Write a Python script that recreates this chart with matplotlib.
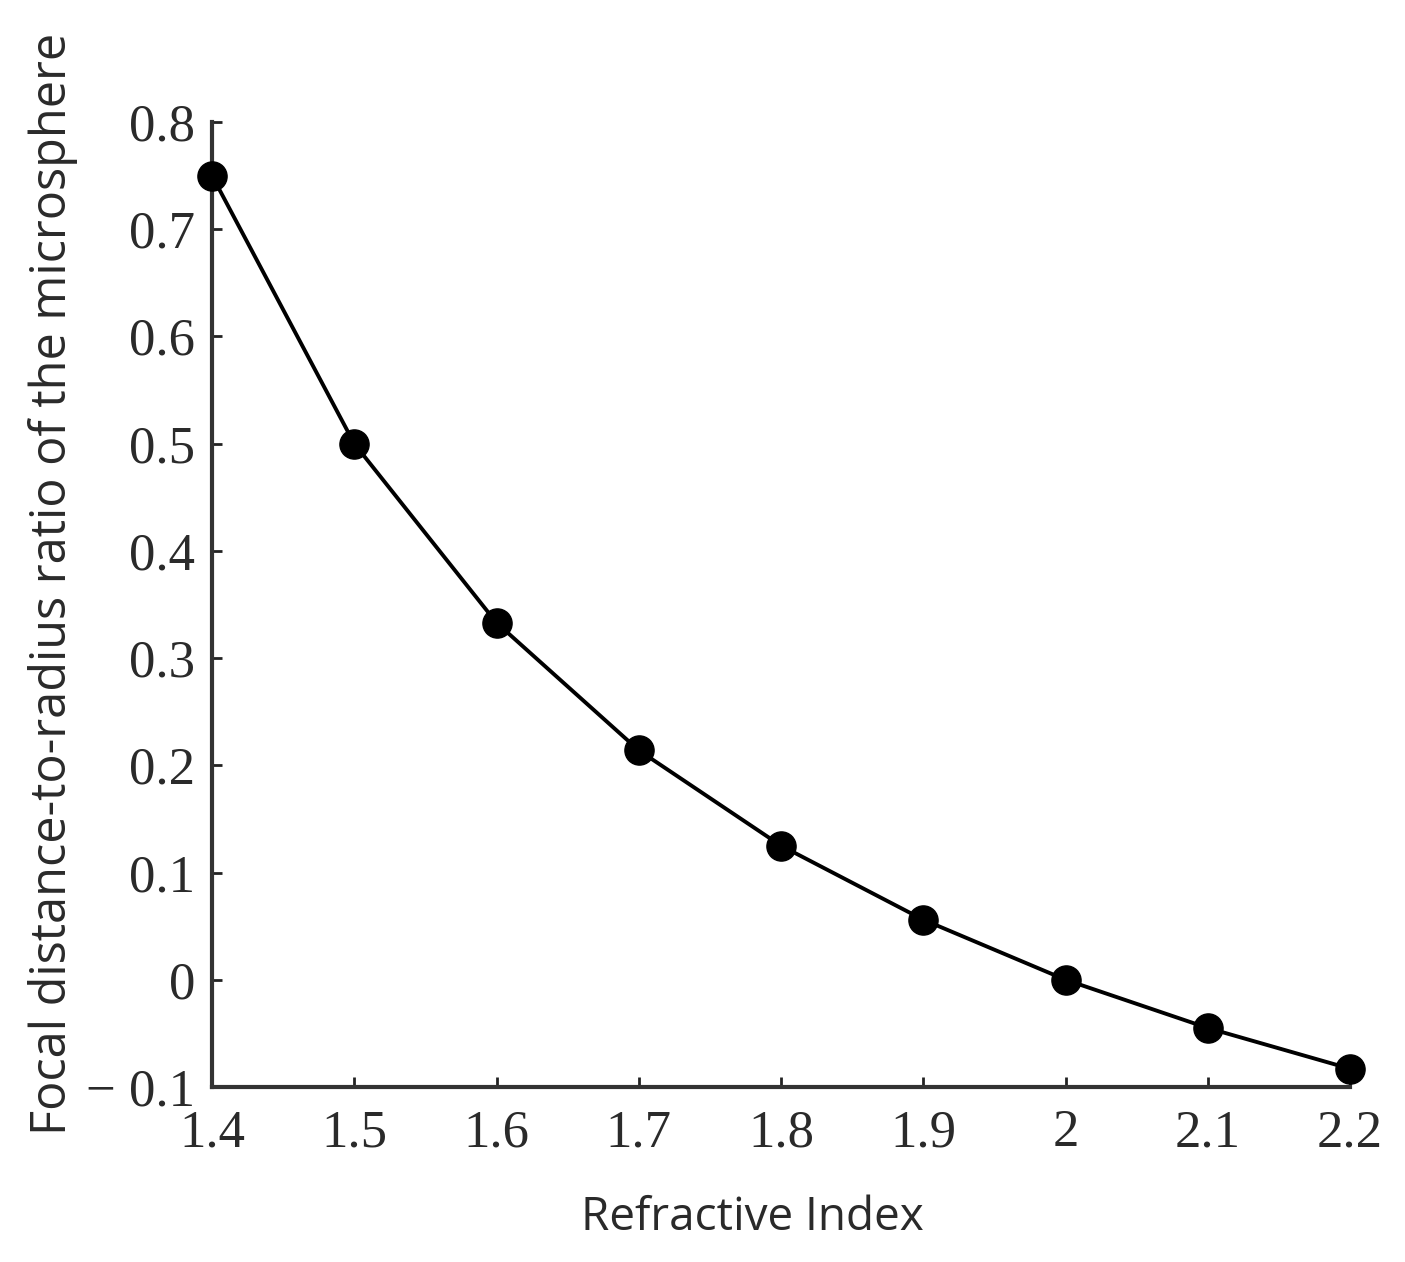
import numpy as np
import matplotlib.pyplot as plt

# data
refractive_index = [1.4, 1.5, 1.6, 1.7, 1.8, 1.9, 2.0, 2.1, 2.2]
focal_ratio = [0.75, 0.50, 0.333, 0.214, 0.125, 0.056, 0.0, -0.045, -0.083]

x_ticks = [1.4, 1.5, 1.6, 1.7, 1.8, 1.9, 2.0, 2.1, 2.2]
x_tick_labels = ['1.4', '1.5', '1.6', '1.7', '1.8', '1.9', '2', '2.1', '2.2']
y_ticks = [-0.1, 0, 0.1, 0.2, 0.3, 0.4, 0.5, 0.6, 0.7, 0.8]
y_tick_labels = ['\u2212 0.1', '0', '0.1', '0.2', '0.3', '0.4', '0.5', '0.6', '0.7', '0.8']

fig = plt.figure(figsize=(14.05, 12.62), dpi=100)
ax = fig.add_axes([0.1509, 0.1387, 0.81, 0.7646])

ax.plot(refractive_index, focal_ratio, color='black', lw=2.8,
        marker='o', markersize=21, markerfacecolor='black',
        markeredgecolor='black', clip_on=False, zorder=3)

ax.set_xlim(1.4, 2.2)
ax.set_ylim(-0.1, 0.8)

ax.spines['top'].set_visible(False)
ax.spines['right'].set_visible(False)
for s in ['left', 'bottom']:
    ax.spines[s].set_linewidth(3)
    ax.spines[s].set_color('#333333')

ax.set_xticks(x_ticks)
ax.set_xticklabels(x_tick_labels)
ax.set_yticks(y_ticks)
ax.set_yticklabels(y_tick_labels)
ax.tick_params(direction='in', length=7, width=2, colors='#222222')
ax.tick_params(axis='x', pad=16)
ax.tick_params(axis='y', pad=12)
for lab in ax.get_xticklabels() + ax.get_yticklabels():
    lab.set_fontfamily('Liberation Serif')
    lab.set_fontsize(38)
    lab.set_color('#2a2a2a')

ax.set_xlabel('Refractive Index', fontfamily='Open Sans', fontsize=33,
              color='#2a2a2a')
ax.set_ylabel('Focal distance-to-radius ratio of the microsphere',
              fontfamily='Open Sans', fontsize=35, color='#2a2a2a')
ax.xaxis.set_label_coords(0.475, -0.112)
ax.yaxis.set_label_coords(-0.118, 0.521)

fig.savefig('out.png', dpi=100)
